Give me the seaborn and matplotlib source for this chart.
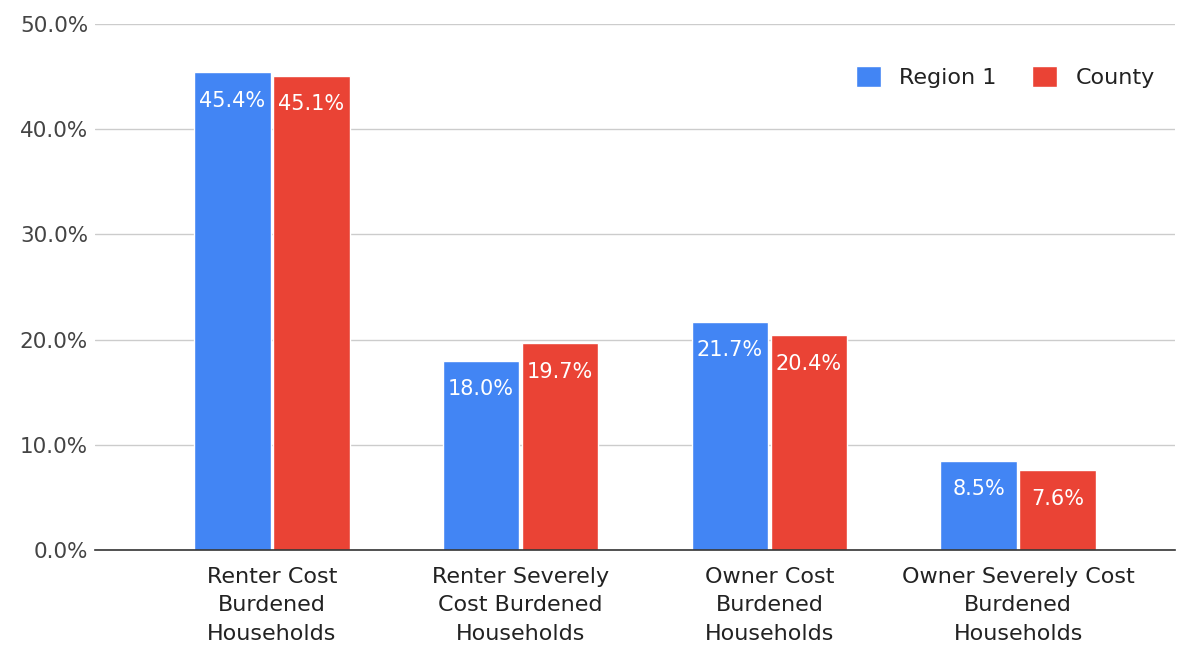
import matplotlib
matplotlib.use("Agg")
import matplotlib.pyplot as plt
from matplotlib.ticker import PercentFormatter
import seaborn as sns
import pandas as pd

categories = [
    "Renter Cost\nBurdened\nHouseholds",
    "Renter Severely\nCost Burdened\nHouseholds",
    "Owner Cost\nBurdened\nHouseholds",
    "Owner Severely Cost\nBurdened\nHouseholds",
]
series_names = ["Region 1", "County"]
region1 = [45.4, 18.0, 21.7, 8.5]
county = [45.1, 19.7, 20.4, 7.6]
colors = ["#4285F4", "#EA4335"]

df = pd.DataFrame({
    "category": categories * 2,
    "series": [series_names[0]] * 4 + [series_names[1]] * 4,
    "value": region1 + county,
})

sns.set_theme(style="white")
plt.rcParams["font.family"] = ["DejaVu Sans"]

fig = plt.figure(figsize=(11.82, 6.49), dpi=100)
ax = fig.add_axes([0.0804, 0.1525, 0.9136, 0.8105])

sns.barplot(data=df, x="category", y="value", hue="series",
            palette=colors, width=0.635, gap=0.03, ax=ax,
            saturation=1, errorbar=None, legend=True)

ax.set_ylim(0, 50)
ax.set_xlim(-0.71, 3.63)
ax.set_yticks([0, 10, 20, 30, 40, 50])
ax.yaxis.set_major_formatter(PercentFormatter(decimals=1))
ax.grid(axis="y", color="#cccccc", linewidth=1)
ax.set_axisbelow(True)
for s in ["left", "right", "top"]:
    ax.spines[s].set_visible(False)
ax.spines["bottom"].set_color("#333333")
ax.spines["bottom"].set_linewidth(1.2)
ax.spines["bottom"].set_zorder(5)
ax.tick_params(axis="y", length=0, labelsize=15.5, labelcolor="#444444", pad=5)
ax.tick_params(axis="x", length=0, labelsize=16, labelcolor="#222222", pad=12)
for lbl in ax.get_xticklabels():
    lbl.set_linespacing(1.53)
ax.set_xlabel("")
ax.set_ylabel("")

# value labels just inside the top of each bar
for cont in ax.containers:
    for patch, v in zip(cont.patches, cont.datavalues):
        ax.annotate(f"{v:.1f}%",
                    xy=(patch.get_x() + patch.get_width() / 2, patch.get_height()),
                    xytext=(0, -25), textcoords="offset points",
                    ha="center", va="baseline", color="white", fontsize=15)

leg = ax.legend(loc="upper right", bbox_to_anchor=(1.0, 0.958), ncol=2,
                frameon=False, fontsize=16, handlelength=1.1, handleheight=1.1,
                columnspacing=1.6, handletextpad=0.85)
for t in leg.get_texts():
    t.set_color("#222222")

fig.savefig("out.png", dpi=100)
